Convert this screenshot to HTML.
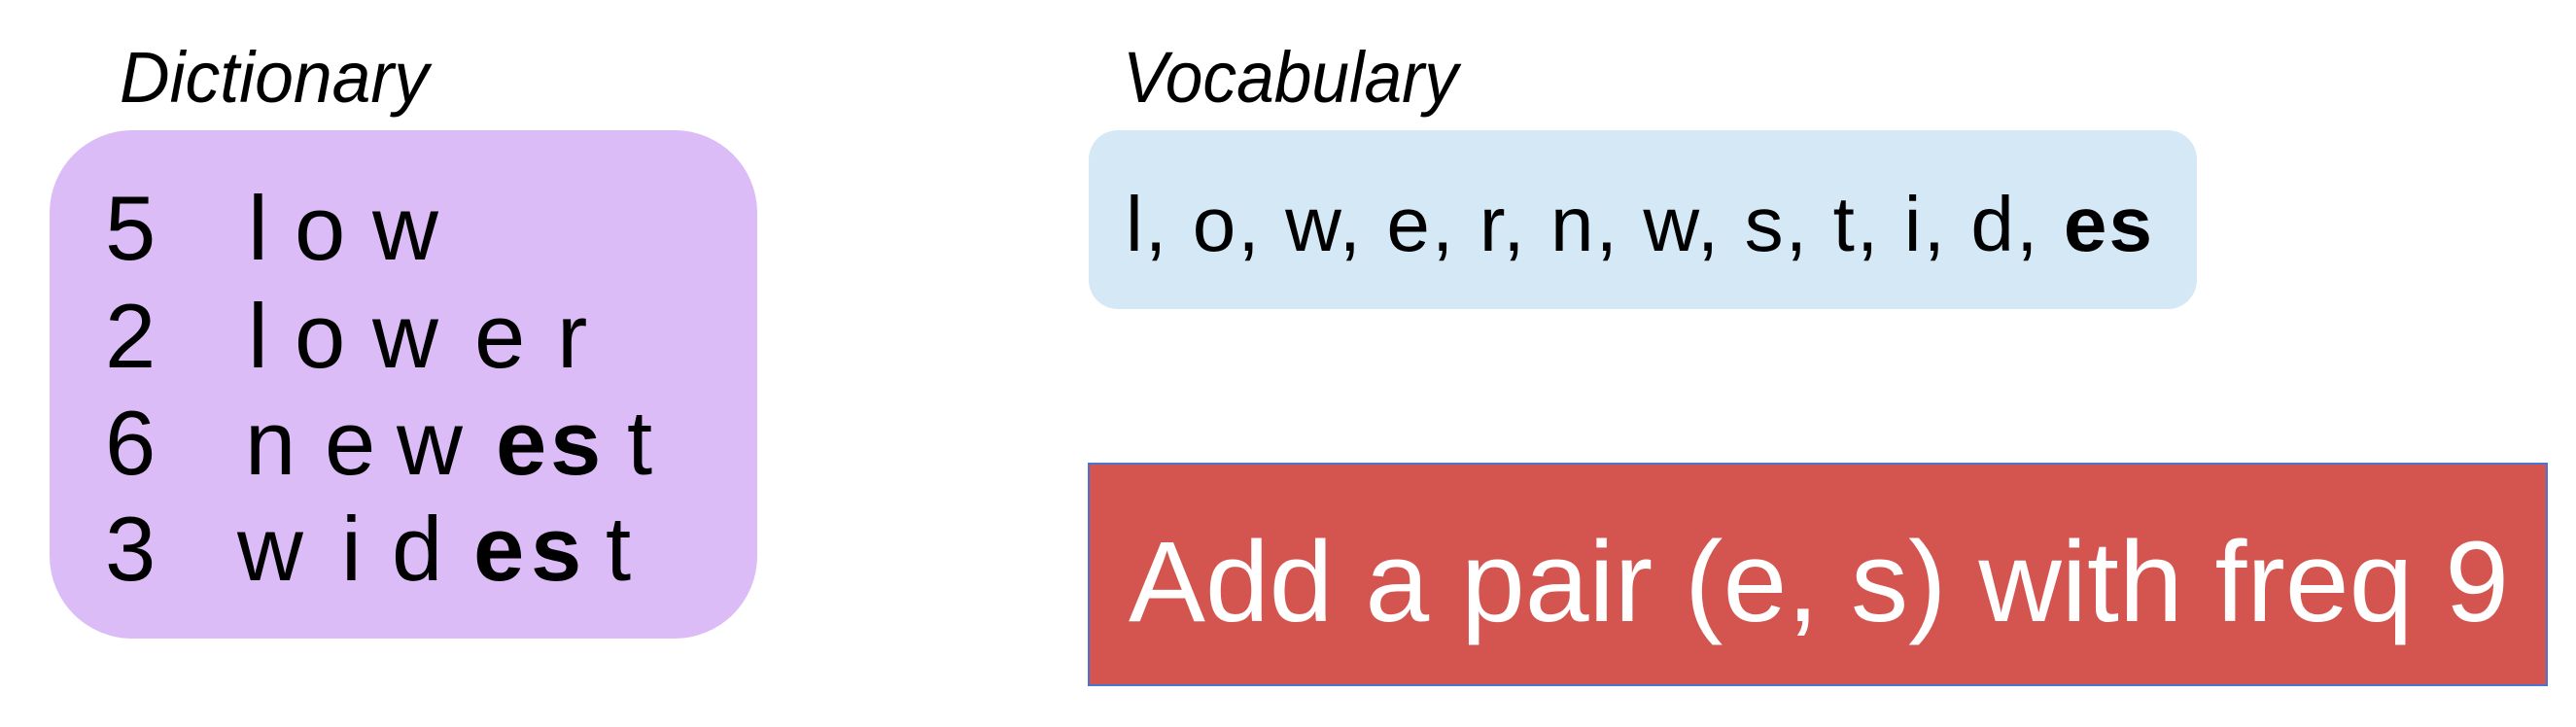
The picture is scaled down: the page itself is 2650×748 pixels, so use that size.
<!DOCTYPE html>
<html><head><meta charset="utf-8"><style>
html,body{margin:0;padding:0;background:#fff;width:2650px;height:748px;overflow:hidden}
svg{display:block}
</style></head><body>
<svg width="2650" height="748" viewBox="0 0 2650 748" xmlns="http://www.w3.org/2000/svg" font-family="Liberation Sans, sans-serif">
<rect x="51" y="134" width="728" height="523" rx="85" ry="85" fill="#dbbcf7"/>
<rect x="1120" y="134" width="1140" height="184" rx="30" ry="30" fill="#d4e8f6"/>
<rect x="1120" y="477" width="1500" height="228" fill="#d4554f" stroke="#4a74d0" stroke-width="2"/>
<text x="123" y="105" font-size="74" font-style="italic" textLength="318" lengthAdjust="spacingAndGlyphs">Dictionary</text>
<text x="1155" y="105" font-size="74" font-style="italic" textLength="345" lengthAdjust="spacingAndGlyphs">Vocabulary</text>
<g font-size="94">
<text x="108" y="267">5</text><text x="108" y="378">2</text><text x="108" y="488">6</text><text x="108" y="597">3</text>
<text y="267"><tspan x="255">l</tspan><tspan x="303">o</tspan><tspan x="383">w</tspan></text>
<text y="378"><tspan x="255">l</tspan><tspan x="303">o</tspan><tspan x="383">w</tspan><tspan x="488">e</tspan><tspan x="573">r</tspan></text>
<text y="488"><tspan x="252">n</tspan><tspan x="334">e</tspan><tspan x="408">w</tspan><tspan x="510" font-weight="bold">e</tspan><tspan x="566" font-weight="bold">s</tspan><tspan x="645">t</tspan></text>
<text y="597"><tspan x="244">w</tspan><tspan x="351">i</tspan><tspan x="403">d</tspan><tspan x="487" font-weight="bold">e</tspan><tspan x="546" font-weight="bold">s</tspan><tspan x="623">t</tspan></text>
</g>
<text x="1158" y="258" font-size="80" textLength="1056" lengthAdjust="spacing">l, o, w, e, r, n, w, s, t, i, d, <tspan font-weight="bold">es</tspan></text>
<text x="1161" y="639" font-size="118" fill="#fff" textLength="1420" lengthAdjust="spacingAndGlyphs">Add a pair (e, s) with freq 9</text>
</svg>
</body></html>
